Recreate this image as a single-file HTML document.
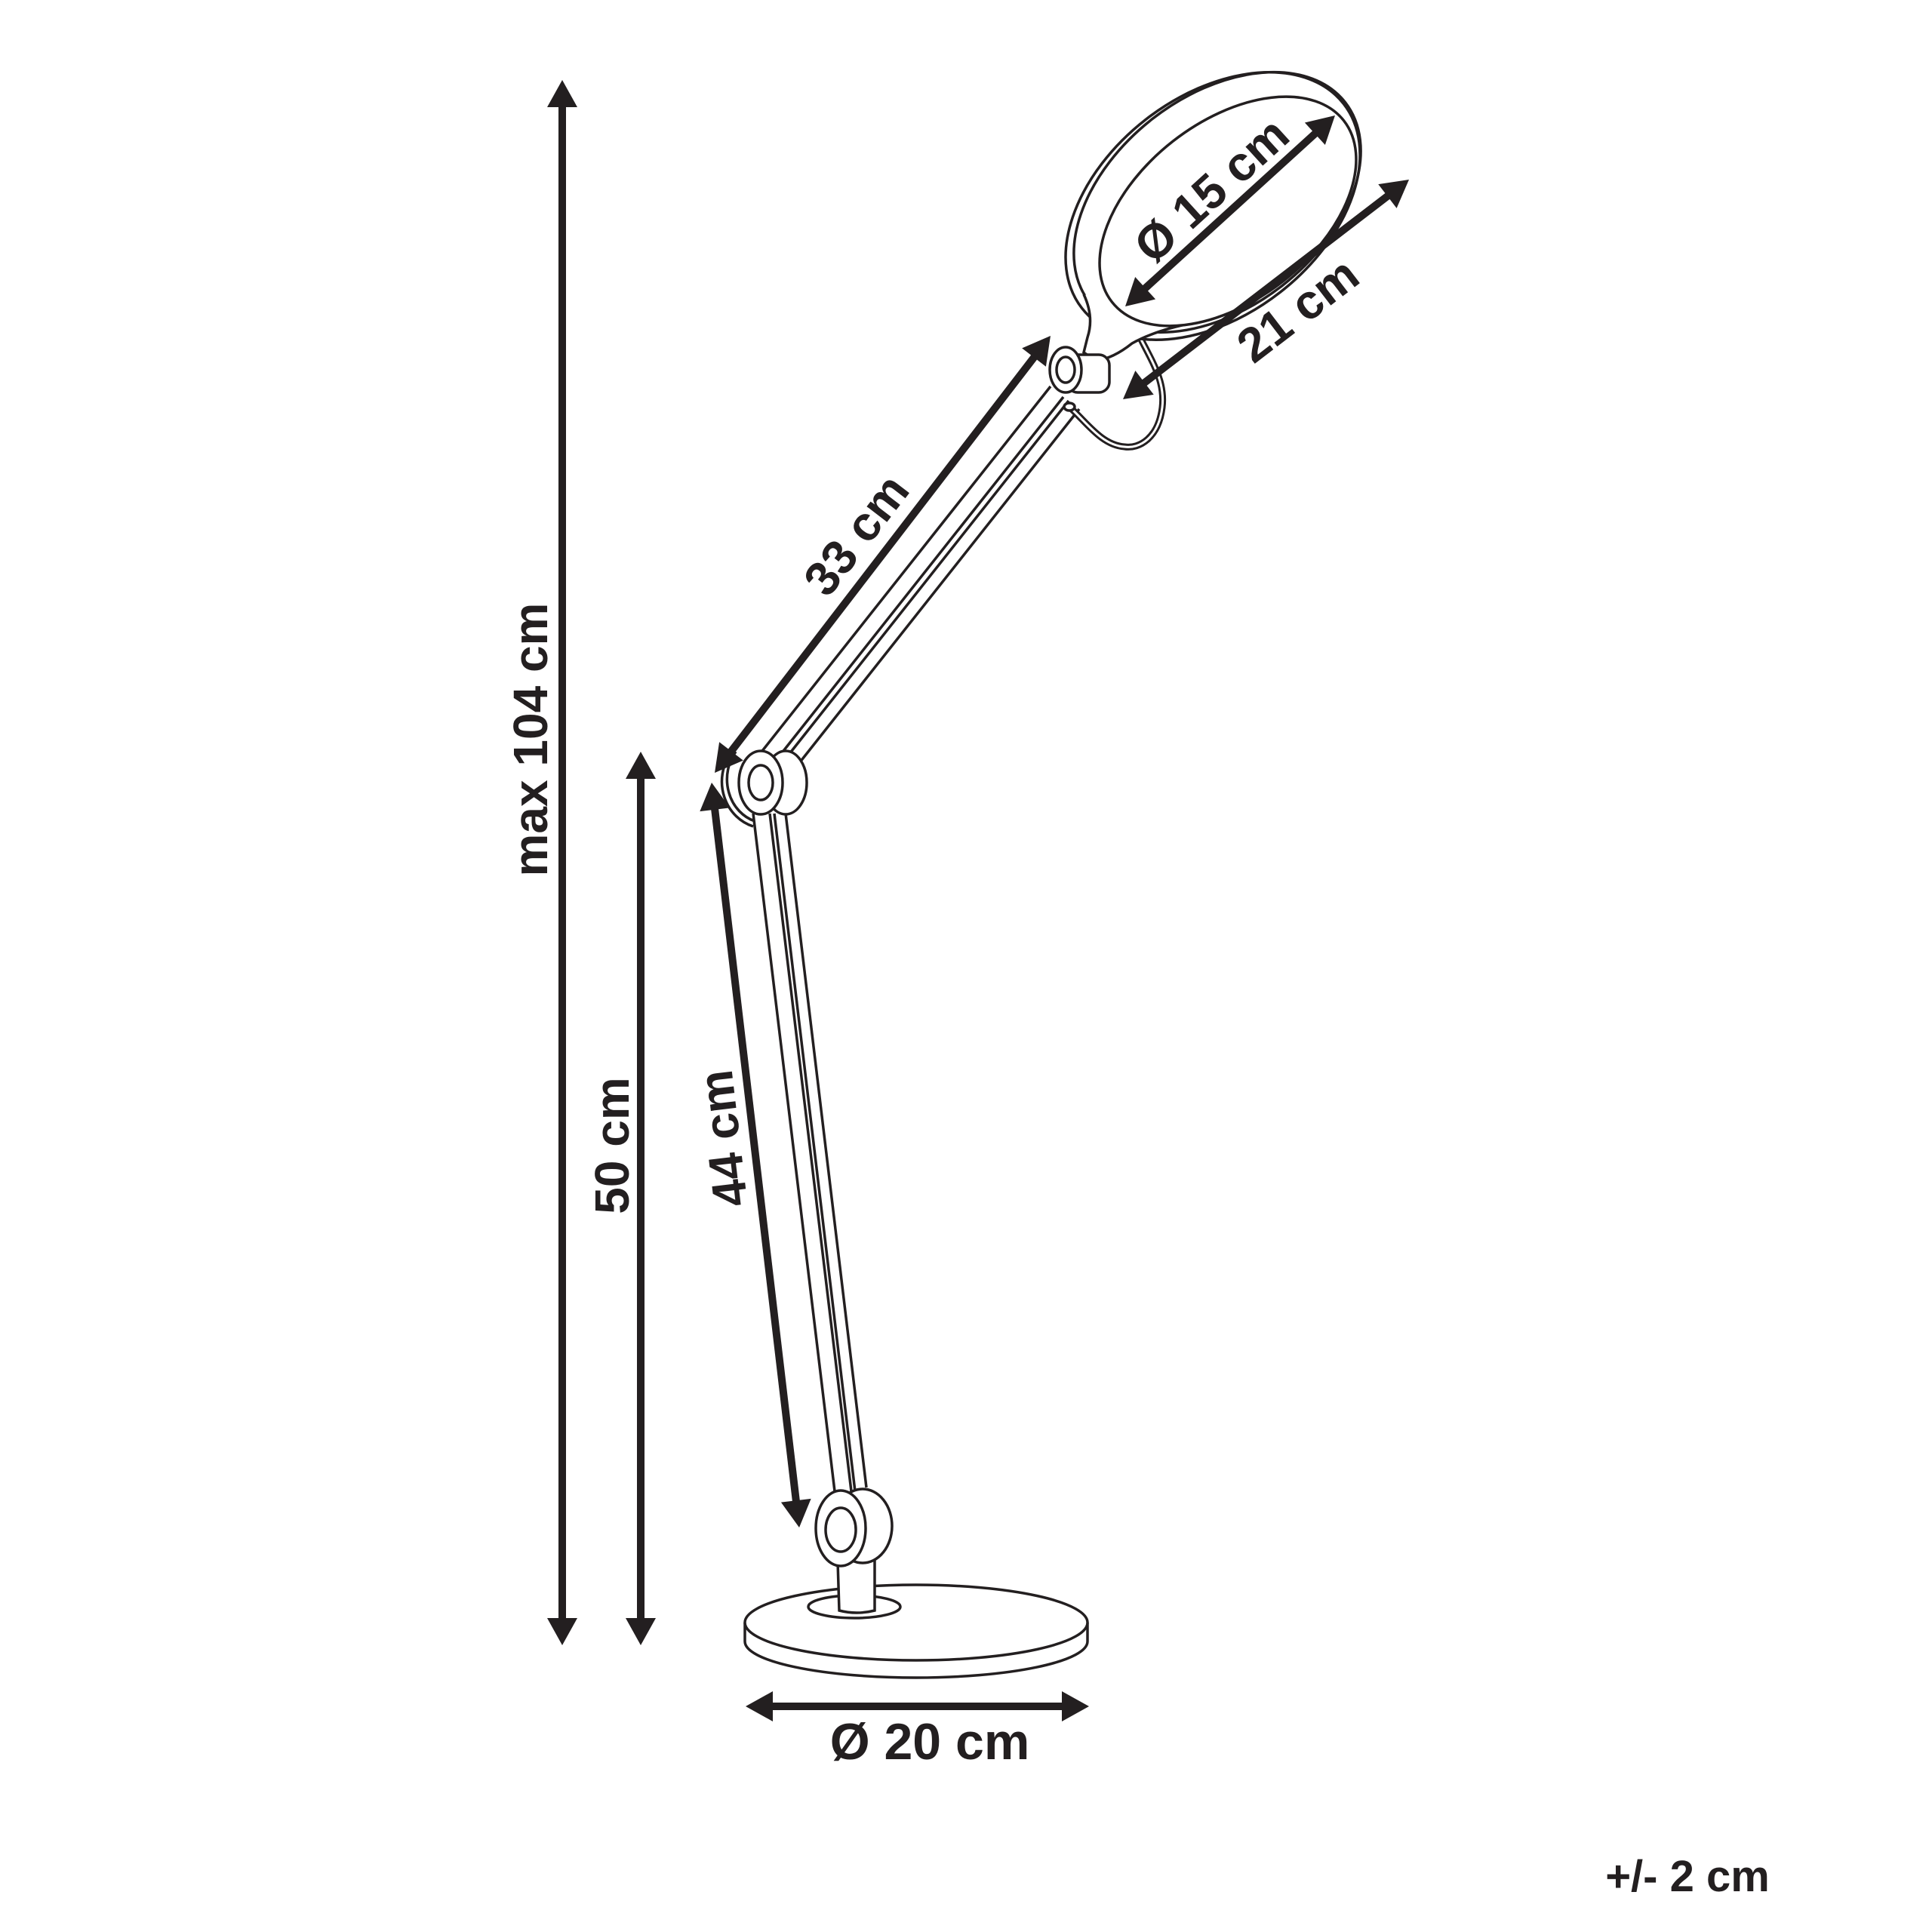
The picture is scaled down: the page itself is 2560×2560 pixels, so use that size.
<!DOCTYPE html>
<html><head><meta charset="utf-8"><style>
html,body{margin:0;padding:0;background:#fff;}
svg{display:block;}
text{font-family:"Liberation Sans",sans-serif;font-weight:bold;fill:#231f20;}
</style></head><body>
<svg width="2560" height="2560" viewBox="0 0 2560 2560" xmlns="http://www.w3.org/2000/svg">
<defs>
<marker id="ah" markerUnits="userSpaceOnUse" markerWidth="40" markerHeight="44" viewBox="0 -22 38 44" refX="6" refY="0" orient="auto-start-reverse">
<path d="M0,-20 L36,0 L0,20 z" fill="#231f20"/>
</marker>
</defs>
<g fill="none" stroke="#231f20" stroke-width="3.5">
<!-- base -->
<path d="M987,2150 L987,2175 A227,48 0 0 0 1441,2175 L1441,2150" fill="#fff"/>
<ellipse cx="1214" cy="2150" rx="227" ry="50" fill="#fff"/>
<ellipse cx="1132" cy="2129" rx="61" ry="15"/>
<path d="M1110,2069 L1112,2134 Q1135,2140 1159,2134 L1159,2066" fill="#fff"/>
<!-- lower arm -->
<line x1="998" y1="1078" x2="1106" y2="1976"/>
<line x1="1020" y1="1078" x2="1128" y2="1976"/>
<line x1="1026" y1="1078" x2="1133" y2="1976"/>
<line x1="1041" y1="1078" x2="1148" y2="1971"/>
<!-- bottom joint -->
<ellipse cx="1143" cy="2022" rx="39" ry="49" fill="#fff"/>
<ellipse cx="1114" cy="2025" rx="33" ry="50" fill="#fff"/>
<ellipse cx="1114" cy="2027" rx="20" ry="29"/>
<!-- upper arm -->
<line x1="1010" y1="995" x2="1392" y2="512"/>
<line x1="1027" y1="1009" x2="1409" y2="526"/>
<line x1="1034" y1="1014" x2="1416" y2="531"/>
<line x1="1048" y1="1025" x2="1430" y2="542"/>
<!-- elbow joint -->
<path d="M975,996 A52,58 0 0 0 1000,1088" />
<path d="M967,1000 A58,62 0 0 0 998,1095" />
<ellipse cx="1041" cy="1037" rx="28" ry="42" fill="#fff"/>
<ellipse cx="1008" cy="1037" rx="29" ry="42" fill="#fff"/>
<ellipse cx="1008" cy="1037" rx="16" ry="23"/>
<!-- cable -->
<path d="M1502,429 C1520,470 1545,500 1540,540 C1535,580 1510,595 1490,592 C1460,590 1440,560 1418,540" stroke-width="9"/>
<path d="M1502,429 C1520,470 1545,500 1540,540 C1535,580 1510,595 1490,592 C1460,590 1440,560 1418,540" stroke="#fff" stroke-width="3"/>
<ellipse cx="1502" cy="428" rx="7" ry="5" fill="#fff"/>
<ellipse cx="1417" cy="539" rx="7" ry="5" fill="#fff"/>
<!-- head -->
<ellipse cx="1613" cy="268" rx="215" ry="140" transform="rotate(-38 1613 268)" fill="#fff"/>
<ellipse cx="1607" cy="273" rx="220" ry="145" transform="rotate(-38 1607 273)"/>
<path d="M1436,390 Q1450,420 1441,447 L1436,467 L1452,478 Q1475,475 1500,455 Q1530,438 1580,428" fill="#fff"/>
<ellipse cx="1627" cy="280" rx="195" ry="118" transform="rotate(-38 1627 280)" fill="#fff"/>
<!-- upper joint -->
<rect x="1414" y="470" width="56" height="50" rx="14" fill="#fff"/>
<ellipse cx="1412" cy="490" rx="21" ry="30" fill="#fff"/>
<ellipse cx="1412" cy="490" rx="12" ry="17"/>
</g>
<g stroke="#231f20" stroke-width="10" marker-start="url(#ah)" marker-end="url(#ah)" fill="none">
<line x1="745" y1="136" x2="745" y2="2150"/>
<line x1="849" y1="1026" x2="849" y2="2150"/>
<line x1="946.5" y1="1066.8" x2="1055.5" y2="1994.2"/>
<line x1="965.3" y1="1000.2" x2="1373.7" y2="468.8"/>
<line x1="1513.2" y1="385.8" x2="1746.8" y2="173.2"/>
<line x1="1511.8" y1="510.7" x2="1843.2" y2="256.3"/>
<line x1="1018" y1="2261" x2="1413" y2="2261"/>
</g>
<text x="0" y="0" font-size="64" text-anchor="middle" transform="translate(725,980) rotate(-90)">max 104 cm</text>
<text x="0" y="0" font-size="64" text-anchor="middle" transform="translate(833,1518) rotate(-90)">50 cm</text>
<text x="0" y="0" font-size="64" text-anchor="middle" transform="translate(980,1506) rotate(-96.7)">44 cm</text>
<text x="0" y="0" font-size="64" text-anchor="middle" transform="translate(1152,722) rotate(-52.4)">33 cm</text>
<text x="0" y="0" font-size="64" text-anchor="middle" transform="translate(1620,268) rotate(-42.3)">Ø 15 cm</text>
<text x="0" y="0" font-size="64" text-anchor="middle" transform="translate(1733,428) rotate(-37.5)">21 cm</text>
<text x="1232" y="2331" font-size="68" text-anchor="middle">Ø 20 cm</text>
<text x="2236" y="2506" font-size="58" text-anchor="middle">+/- 2 cm</text>
</svg>
</body></html>
